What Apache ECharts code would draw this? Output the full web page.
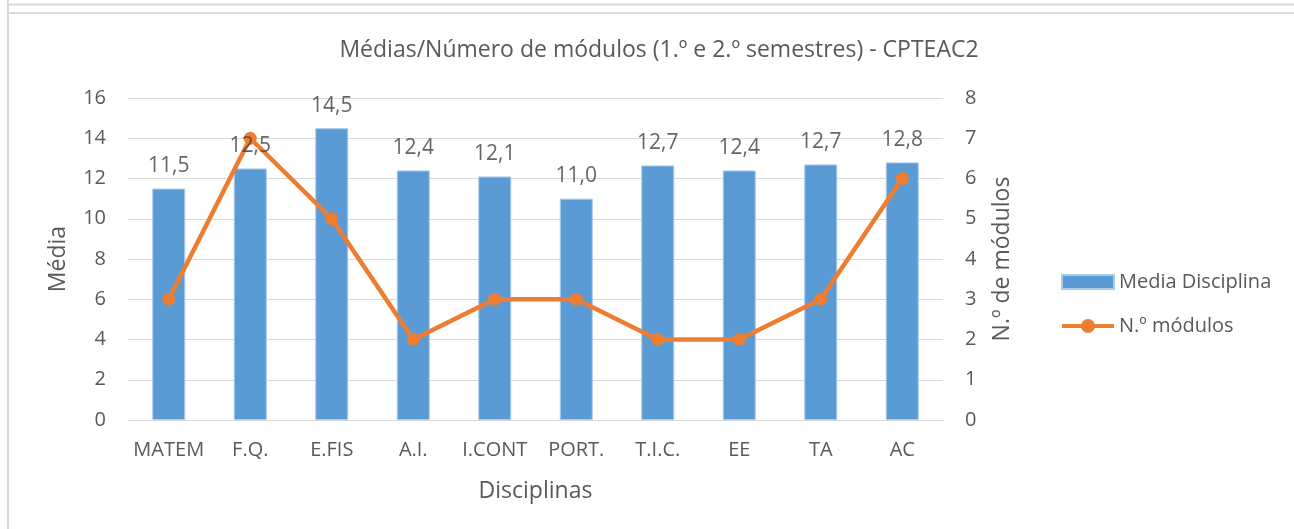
<!DOCTYPE html>
<html>
<head>
<meta charset="utf-8">
<title>Médias/Número de módulos</title>
<script src="https://cdn.jsdelivr.net/npm/echarts@6/dist/echarts.min.js"></script>
<style>
  html, body { margin: 0; padding: 0; background: #fff; }
  #chart { width: 1294px; height: 529px; }
</style>
</head>
<body>
<div id="chart"></div>
<script>
// dados
const disciplinas = ["MATEM", "F.Q.", "E.FIS", "A.I.", "I.CONT", "PORT.", "T.I.C.", "EE", "TA", "AC"];
const mediaDisciplina = [11.5, 12.5, 14.5, 12.4, 12.1, 11.0, 12.65, 12.4, 12.7, 12.8];
const numModulos = [3, 7, 5, 2, 3, 3, 2, 2, 3, 6];

const FONT = "Open Sans";
const GREY = "#595959";
const GRID = "#D9D9D9";

const myChart = echarts.init(document.getElementById("chart"));

const fmt = (v) => v.toFixed(1).replace(".", ",");

// icone da legenda: linha grossa com bolinha (estilo Excel)
const lineIcon = "path://M0,5 L52,5 L52,9 L0,9 Z M33,7 A7,7 0 1 1 19,7 A7,7 0 1 1 33,7 Z";

const option = {
  animation: false,
  textStyle: { fontFamily: FONT, color: GREY },
  title: {
    text: "Médias/Número de módulos (1.º e 2.º semestres) - CPTEAC2",
    left: 654,
    top: 34,
    textAlign: "center",
    textStyle: { fontFamily: FONT, fontSize: 23, fontWeight: "normal", color: GREY },
  },
  graphic: [
    { type: "line", shape: { x1: 8, y1: 0, x2: 8, y2: 529 }, style: { stroke: GRID, lineWidth: 2 } },
    { type: "line", shape: { x1: 8, y1: 4.5, x2: 1294, y2: 4.5 }, style: { stroke: GRID, lineWidth: 2 } },
    { type: "line", shape: { x1: 8, y1: 13, x2: 1294, y2: 13 }, style: { stroke: GRID, lineWidth: 2 } },
  ],
  legend: {
    orient: "vertical",
    left: 1056,
    top: 267,
    itemWidth: 52,
    itemHeight: 14,
    itemGap: 24,
    data: [
      { name: "Media Disciplina", icon: "rect" },
      { name: "N.º módulos", icon: lineIcon, itemStyle: { color: "#ED7D31" } },
    ],
    textStyle: { fontFamily: FONT, fontSize: 20, color: GREY },
  },
  grid: { left: 128, right: 351, top: 98, bottom: 109 },
  xAxis: {
    type: "category",
    data: disciplinas,
    name: "Disciplinas",
    nameLocation: "middle",
    nameGap: 60,
    nameTextStyle: { fontFamily: FONT, fontSize: 23, color: GREY },
    axisLine: { lineStyle: { color: GRID, width: 1 } },
    axisTick: { show: false },
    axisLabel: { fontFamily: FONT, fontSize: 20, color: GREY, margin: 20, interval: 0 },
  },
  yAxis: [
    {
      type: "value",
      min: 0,
      max: 16,
      interval: 2,
      name: "Média",
      nameLocation: "middle",
      nameGap: 58,
      nameTextStyle: { fontFamily: FONT, fontSize: 23, color: GREY },
      axisLabel: { fontFamily: FONT, fontSize: 20, color: GREY, margin: 22 },
      splitLine: { lineStyle: { color: GRID, width: 1 } },
    },
    {
      type: "value",
      min: 0,
      max: 8,
      interval: 1,
      name: "N.º de módulos",
      nameLocation: "middle",
      nameGap: 48,
      nameRotate: 90,
      nameTextStyle: { fontFamily: FONT, fontSize: 23, color: GREY },
      axisLabel: { fontFamily: FONT, fontSize: 20, color: GREY, margin: 22 },
      splitLine: { show: false },
    },
  ],
  series: [
    {
      name: "Media Disciplina",
      type: "bar",
      data: mediaDisciplina,
      barWidth: 33,
      z: 2,
      itemStyle: { color: "#5B9BD5", borderColor: "#A9CBEA", borderWidth: 1 },
    },
    {
      name: "N.º módulos",
      type: "line",
      yAxisIndex: 1,
      data: numModulos,
      z: 3,
      symbol: "circle",
      symbolSize: 13,
      lineStyle: { color: "#ED7D31", width: 4.5 },
      itemStyle: { color: "#ED7D31" },
    },
    {
      // etiquetas das barras, por cima da linha
      name: "rotulos",
      type: "scatter",
      data: mediaDisciplina,
      symbolSize: 0,
      z: 5,
      silent: true,
      label: {
        show: true,
        position: "top",
        distance: 12,
        fontFamily: FONT,
        fontSize: 21,
        color: "#404040",
        formatter: (p) => fmt(p.value),
      },
    },
  ],
};

option && myChart.setOption(option);
</script>
</body>
</html>
